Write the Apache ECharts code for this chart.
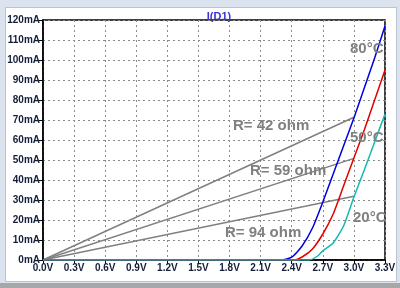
<!DOCTYPE html>
<html>
<head>
<meta charset="utf-8">
<script src="https://cdn.jsdelivr.net/npm/echarts@6/dist/echarts.min.js"></script>
<style>
  html, body { margin: 0; padding: 0; }
  body { width: 400px; height: 288px; background: #dbe4ee; position: relative; overflow: hidden; }
  #panel { position: absolute; left: 5px; top: 7px; width: 390px; height: 273px; background: #fff; border: 1px solid #b9c4d0; }
  #bottom { position: absolute; left: 0; top: 283px; width: 400px; height: 5px; background: #a7a7a7; }
  #chart { position: absolute; left: 0; top: 0; width: 400px; height: 288px; }
</style>
</head>
<body>
<div id="panel"></div>
<div id="bottom"></div>
<div id="chart"></div>
<script>
// load lines (R to 3.0V)
var r42 = [[0, 0], [3.0, 71.4]];
var r59 = [[0, 0], [3.0, 50.8]];
var r94 = [[0, 0], [3.0, 31.9]];

// diode current, mA vs V
var d80 = [[0, 0], [2.30, 0], [2.40, 1.4], [2.50, 7], [2.60, 16], [2.70, 29], [2.80, 43],
  [2.90, 57], [3.00, 71], [3.10, 86], [3.20, 101], [3.30, 117]];
var d50 = [[0, 0], [2.42, 0], [2.50, 1.5], [2.60, 5.5], [2.70, 13], [2.80, 23], [2.90, 37],
  [3.00, 51], [3.10, 65], [3.20, 80], [3.30, 95]];
var d20 = [[0, 0], [2.57, 0], [2.65, 2], [2.70, 4.6], [2.80, 8.5], [2.90, 17], [3.00, 31.5],
  [3.10, 45], [3.20, 59], [3.30, 73]];

var labelColor = "#141e38";
var noteColor = "#808080";

var chart = echarts.init(document.getElementById("chart"));

function note(text, left, top) {
  return {
    type: "text",
    left: left,
    top: top,
    style: {
      text: text,
      fill: noteColor,
      font: "bold 15px 'Liberation Sans', Arial, sans-serif"
    },
    z: 10
  };
}

var axisCommon = {
  axisLine: { show: true, lineStyle: { color: "#000", width: 1.5 } },
  axisTick: { show: true, length: 4, inside: false, lineStyle: { color: "#000", width: 1 } },
  splitLine: { show: true, lineStyle: { color: "#8a8a8a", width: 1, type: [2, 3] } }
};

var option = {
  animation: false,
  title: {
    text: "I(D1)",
    left: 214,
    top: 6,
    textAlign: "center",
    textStyle: {
      color: "#3b35d0",
      fontSize: 11,
      fontWeight: "bold",
      fontFamily: "Liberation Sans"
    }
  },
  grid: {
    show: true,
    left: 43,
    right: 15,
    top: 20,
    bottom: 28,
    backgroundColor: "transparent",
    borderColor: "#000",
    borderWidth: 1.5
  },
  xAxis: Object.assign({}, axisCommon, {
    type: "value",
    min: 0,
    max: 3.3,
    interval: 0.3,
    axisLabel: {
      margin: 3,
      color: labelColor,
      fontSize: 10,
      fontWeight: "bold",
      fontFamily: "Liberation Sans",
      formatter: function (v) { return v.toFixed(1) + "V"; }
    }
  }),
  yAxis: Object.assign({}, axisCommon, {
    type: "value",
    min: 0,
    max: 120,
    interval: 10,
    axisLabel: {
      margin: 3,
      color: labelColor,
      fontSize: 10,
      fontWeight: "bold",
      fontFamily: "Liberation Sans",
      formatter: "{value}mA"
    }
  }),
  series: [
    { type: "line", data: r42, symbol: "none", lineStyle: { color: "#808080", width: 1.5 } },
    { type: "line", data: r59, symbol: "none", lineStyle: { color: "#808080", width: 1.5 } },
    { type: "line", data: r94, symbol: "none", lineStyle: { color: "#808080", width: 1.5 } },
    { type: "line", data: d80, symbol: "none", smooth: 0.2, lineStyle: { color: "#0000e0", width: 1.5 } },
    { type: "line", data: d50, symbol: "none", smooth: 0.2, lineStyle: { color: "#e00000", width: 1.5 } },
    { type: "line", data: d20, symbol: "none", smooth: 0.2, z: 3, lineStyle: { color: "#16b8b0", width: 1.5 } }
  ],
  graphic: [
    note("80°C", 350, 41),
    note("50°C", 350, 130),
    note("20°C", 353, 210),
    note("R= 42 ohm", 233, 118),
    note("R= 59 ohm", 250, 163),
    note("R= 94 ohm", 225, 225)
  ]
};

chart.setOption(option);
</script>
</body>
</html>
